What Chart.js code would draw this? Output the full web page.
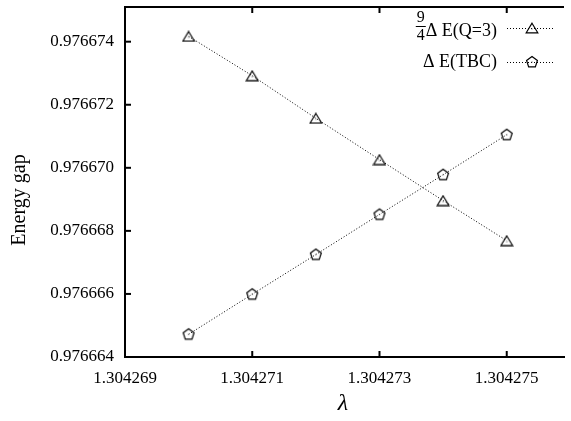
<!DOCTYPE html>
<html><head><meta charset="utf-8">
<script src="https://cdn.jsdelivr.net/npm/chart.js@4"></script>
<style>html,body{margin:0;padding:0;background:#fff}#w{width:571px;height:421px}</style>
</head><body><div id="w"><canvas id="c" width="571" height="421"></canvas></div>
<script>
// ---- data ----
const lambdaValues = [1.304270, 1.304271, 1.304272, 1.304273, 1.304274, 1.304275];
const gapQ3 = [0.97667417, 0.97667292, 0.97667157, 0.97667026, 0.97666896, 0.97666769];
const gapTBC = [0.97666472, 0.97666599, 0.97666725, 0.97666852, 0.97666978, 0.97667105];
const xTickValues = [1.304269, 1.304271, 1.304273, 1.304275];
const yTickValues = [0.976664, 0.976666, 0.976668, 0.976670, 0.976672, 0.976674];
const seriesLabels = ['\u0394 E(Q=3)', '\u0394 E(TBC)'];
const fractionParts = ['9', '4'];
const xTitle = '\u03bb';
const yTitle = 'Energy gap';

const SERIF = '"Liberation Serif", "DejaVu Serif", serif';

function makeTriangle() {
  const c = document.createElement('canvas'); c.width = 14; c.height = 12;
  const g = c.getContext('2d');
  g.strokeStyle = '#000'; g.lineWidth = 1.2;
  g.beginPath(); g.moveTo(7, 1.2); g.lineTo(12.8, 10.8); g.lineTo(1.2, 10.8); g.closePath(); g.stroke();
  g.fillStyle = '#555'; g.fillRect(6.5, 6.5, 1, 1);
  return c;
}
function makePentagon() {
  const c = document.createElement('canvas'); c.width = 14; c.height = 14;
  const g = c.getContext('2d');
  g.strokeStyle = '#000'; g.lineWidth = 1.2;
  g.beginPath();
  for (let k = 0; k < 5; k++) {
    const a = -Math.PI / 2 + k * 2 * Math.PI / 5;
    const px = 7 + 5.7 * Math.cos(a), py = 7.3 + 5.7 * Math.sin(a);
    if (k === 0) g.moveTo(px, py); else g.lineTo(px, py);
  }
  g.closePath(); g.stroke();
  g.fillStyle = '#555'; g.fillRect(6.5, 6.5, 1, 1);
  return c;
}
const triImg = makeTriangle();
const pentImg = makePentagon();

const decor = {
  id: 'decor',
  afterDraw(chart) {
    const ctx = chart.ctx;
    const {left, right, top, bottom} = chart.chartArea;
    const xs = chart.scales.x, ys = chart.scales.y;
    ctx.save();
    ctx.strokeStyle = '#000';
    ctx.lineWidth = 2;
    ctx.beginPath(); ctx.moveTo(left - 1, top); ctx.lineTo(right, top); ctx.stroke();
    yTickValues.forEach(v => {
      const y = ys.getPixelForValue(v);
      ctx.beginPath(); ctx.moveTo(left, y); ctx.lineTo(left + 6, y); ctx.stroke();
    });
    xTickValues.forEach(v => {
      const x = xs.getPixelForValue(v);
      ctx.beginPath(); ctx.moveTo(x, bottom); ctx.lineTo(x, bottom - 6); ctx.stroke();
      ctx.beginPath(); ctx.moveTo(x, top); ctx.lineTo(x, top + 6); ctx.stroke();
    });
    // y title
    ctx.fillStyle = '#000';
    ctx.font = '20px ' + SERIF;
    ctx.textAlign = 'center'; ctx.textBaseline = 'middle';
    ctx.save(); ctx.translate(20, 200); ctx.rotate(-Math.PI / 2); ctx.fillText(yTitle, 0, 0); ctx.restore();
    // x title
    ctx.font = 'italic 24px ' + SERIF;
    ctx.fillText(xTitle, 343, 404);
    // legend
    const textRight = 497;
    const rows = [28, 62];
    ctx.font = '18px ' + SERIF;
    ctx.textAlign = 'right';
    ctx.fillText(seriesLabels[0], textRight, rows[0] + 3);
    ctx.fillText(seriesLabels[1], textRight, rows[1]);
    const w0 = ctx.measureText(seriesLabels[0]).width;
    const fx = textRight - w0 - 5;
    ctx.font = '16px ' + SERIF;
    ctx.textAlign = 'center';
    ctx.fillText(fractionParts[0], fx, rows[0] - 10);
    ctx.fillText(fractionParts[1], fx, rows[0] + 8);
    ctx.lineWidth = 1;
    ctx.beginPath(); ctx.moveTo(fx - 5, rows[0] - 1.5); ctx.lineTo(fx + 5, rows[0] - 1.5); ctx.stroke();
    // samples
    ctx.strokeStyle = '#000';
    ctx.setLineDash([1, 2]);
    rows.forEach(ry => {
      ctx.beginPath(); ctx.moveTo(507, ry + 0.5); ctx.lineTo(554, ry + 0.5); ctx.stroke();
    });
    ctx.setLineDash([]);
    ctx.drawImage(triImg, 532 - 7, rows[0] - 6);
    ctx.drawImage(pentImg, 532 - 7, rows[1] - 7);
    ctx.restore();
  }
};

const commonLine = {
  borderColor: '#000', borderWidth: 1, borderDash: [1, 2],
  showLine: true, fill: false, pointRadius: 6, pointHoverRadius: 6
};

new Chart(document.getElementById('c'), {
  type: 'scatter',
  data: {
    datasets: [
      Object.assign({label: seriesLabels[0], data: lambdaValues.map((x, i) => ({x, y: gapQ3[i]})), pointStyle: triImg}, commonLine),
      Object.assign({label: seriesLabels[1], data: lambdaValues.map((x, i) => ({x, y: gapTBC[i]})), pointStyle: pentImg}, commonLine)
    ]
  },
  options: {
    responsive: false, animation: false, devicePixelRatio: 1,
    layout: {padding: {top: 5, right: 0, left: 0, bottom: 0}},
    plugins: {legend: {display: false}, tooltip: {enabled: false}},
    scales: {
      x: {
        type: 'linear', min: 1.304269, max: 1.3042759,
        grid: {display: false, drawTicks: false},
        border: {display: true, color: '#000', width: 2},
        afterBuildTicks: s => { s.ticks = xTickValues.map(v => ({value: v})); },
        afterFit: s => { s.height = 64; s.paddingLeft = 0; s.paddingRight = 0; },
        ticks: {padding: 11, color: '#000', font: {family: SERIF, size: 17}, maxRotation: 0, autoSkip: false,
          callback: v => Number(v).toFixed(6)}
      },
      y: {
        type: 'linear', min: 0.976664, max: 0.9766751,
        grid: {display: false, drawTicks: false},
        border: {display: true, color: '#000', width: 2},
        afterBuildTicks: s => { s.ticks = yTickValues.map(v => ({value: v})); },
        afterFit: s => { s.width = 125; s.paddingTop = 0; s.paddingBottom = 0; },
        ticks: {padding: 11, color: '#000', font: {family: SERIF, size: 17}, autoSkip: false,
          callback: v => Number(v).toFixed(6)}
      }
    }
  },
  plugins: [decor]
});
</script>
</body></html>
